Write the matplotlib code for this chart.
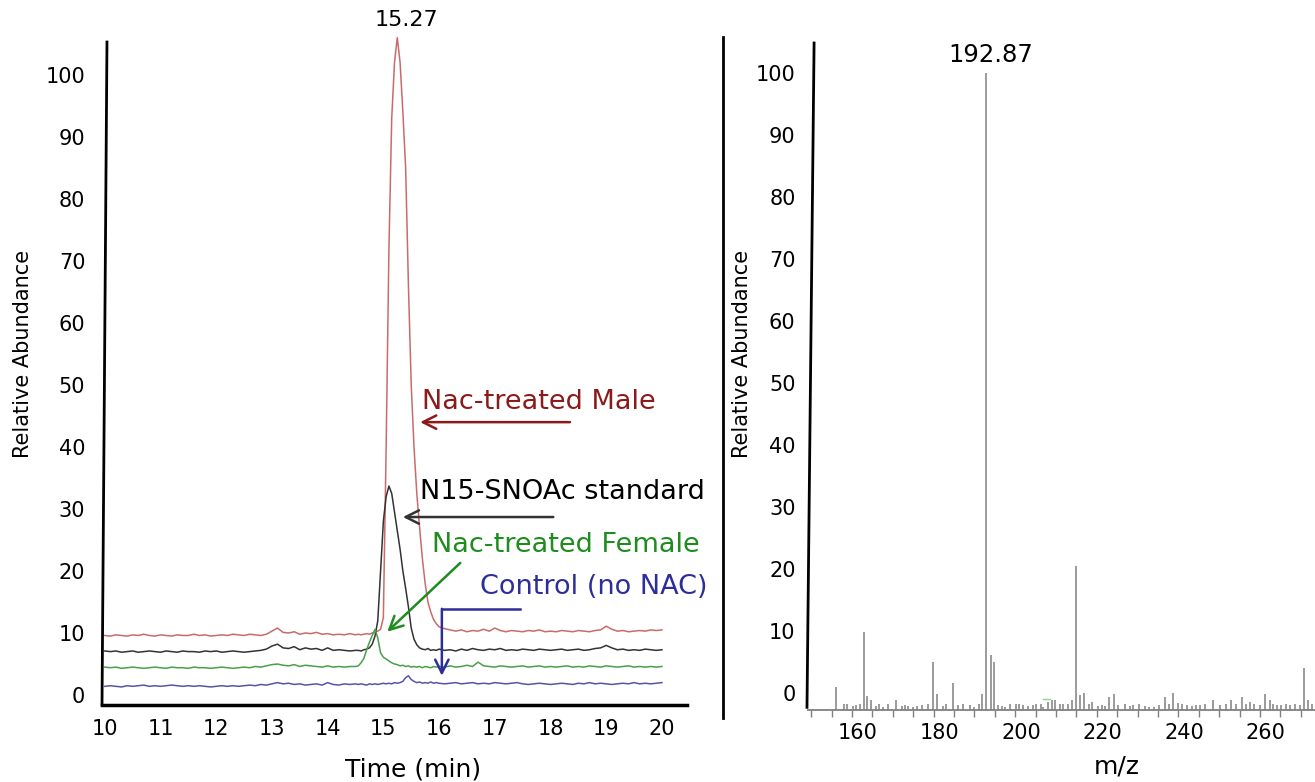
import matplotlib
matplotlib.use('Agg')
import matplotlib.pyplot as plt
import matplotlib.transforms as mtransforms
from matplotlib.lines import Line2D

# ---- chromatogram (left panel), time grid in minutes ----
time_min = [10.0, 10.1, 10.2, 10.3, 10.4, 10.5, 10.6, 10.7, 10.8, 10.9,
            11.0, 11.1, 11.2, 11.3, 11.4, 11.5, 11.6, 11.7, 11.8, 11.9,
            12.0, 12.1, 12.2, 12.3, 12.4, 12.5, 12.6, 12.7, 12.8, 12.9,
            13.0, 13.1, 13.2, 13.3, 13.4, 13.5, 13.6, 13.7, 13.8, 13.9,
            14.0, 14.1, 14.2, 14.3, 14.4, 14.5,
            14.55, 14.6, 14.65, 14.7, 14.75, 14.8, 14.85, 14.9, 14.95, 15.0,
            15.05, 15.1, 15.15, 15.2, 15.25, 15.3, 15.35, 15.4, 15.45, 15.5,
            15.55, 15.6, 15.65, 15.7, 15.75, 15.8, 15.85, 15.9, 15.95, 16.0,
            16.1, 16.2, 16.3, 16.4, 16.5, 16.6, 16.7, 16.8, 16.9, 17.0,
            17.1, 17.2, 17.3, 17.4, 17.5, 17.6, 17.7, 17.8, 17.9, 18.0,
            18.1, 18.2, 18.3, 18.4, 18.5, 18.6, 18.7, 18.8, 18.9, 19.0,
            19.1, 19.2, 19.3, 19.4, 19.5, 19.6, 19.7, 19.8, 19.9, 20.0]

male = [9.6, 9.5, 9.7, 9.6, 9.5, 9.7, 9.6, 9.8, 9.6, 9.5,
        9.7, 9.6, 9.5, 9.7, 9.6, 9.6, 9.8, 9.6, 9.7, 9.5,
        9.6, 9.7, 9.6, 9.8, 9.7, 9.6, 9.8, 9.7, 9.6, 9.8,
        10.3, 10.8, 10.1, 10.0, 10.2, 9.8, 10.0, 9.9, 10.1, 9.8,
        9.9, 9.7, 9.8, 9.7, 9.9, 9.7,
        9.8, 9.7, 9.8, 9.9, 9.8, 10.0, 10.1, 10.3, 10.6, 12.5,
        40.0, 72.0, 93.0, 102.0, 106.0, 102.0, 94.0, 85.0, 66.0, 50.0,
        40.0, 32.5, 27.0, 22.0, 18.0, 15.0, 13.4, 12.2, 11.5, 11.0,
        10.7, 10.5, 10.3, 10.5, 10.2, 10.4, 10.3, 10.6, 10.3, 10.8,
        10.4, 10.2, 10.4, 10.3, 10.2, 10.4, 10.3, 10.5, 10.2, 10.3,
        10.2, 10.4, 10.3, 10.2, 10.4, 10.3, 10.2, 10.4, 10.5, 11.1,
        10.6, 10.3, 10.4, 10.2, 10.3, 10.4, 10.3, 10.5, 10.4, 10.5]

standard = [7.1, 7.0, 7.1, 6.9, 7.0, 7.1, 6.9, 7.0, 7.1, 7.0,
            6.9, 7.1, 7.0, 6.9, 7.1, 7.0, 7.0, 6.9, 7.1, 7.0,
            7.1, 6.9, 7.0, 7.1, 7.0, 6.9, 7.0, 7.1, 7.2, 7.4,
            7.9, 8.2, 7.6, 7.5, 7.8, 7.3, 7.6, 7.4, 7.5, 7.2,
            7.6, 7.2, 7.3, 7.2, 7.1, 7.2,
            7.2, 7.1, 7.3, 7.4, 7.6, 8.2, 9.5, 12.0, 20.0, 28.0,
            32.0, 33.7, 32.5, 29.5, 26.5, 23.5, 20.0, 17.2, 14.2, 10.8,
            9.0, 8.1, 7.6, 7.4, 7.3, 7.5, 7.2, 7.3, 7.2, 7.4,
            7.2, 7.3, 7.1, 7.4, 7.2, 7.5, 7.3, 7.2, 7.4, 7.3,
            7.5, 7.2, 7.3, 7.2, 7.4, 7.3, 7.2, 7.4, 7.3, 7.2,
            7.3, 7.4, 7.2, 7.3, 7.4, 7.2, 7.3, 7.5, 7.6, 8.0,
            7.6, 7.3, 7.4, 7.2, 7.3, 7.2, 7.4, 7.3, 7.2, 7.3]

female = [4.5, 4.4, 4.5, 4.3, 4.4, 4.5, 4.4, 4.3, 4.4, 4.5,
          4.4, 4.3, 4.5, 4.4, 4.4, 4.3, 4.5, 4.4, 4.4, 4.3,
          4.4, 4.5, 4.4, 4.3, 4.4, 4.5, 4.4, 4.6, 4.5, 4.7,
          4.9, 5.0, 4.8, 4.7, 4.9, 4.6, 4.8, 4.7, 4.6, 4.5,
          4.7, 4.5, 4.6, 4.5, 4.6, 4.6,
          4.7, 5.2, 5.9, 7.3, 8.5, 9.6, 10.6, 9.2, 6.8, 6.1,
          5.8, 5.5, 5.2, 5.0, 4.9, 4.7, 4.8, 4.6, 4.7, 4.5,
          4.6, 4.5, 4.6, 4.4, 4.6, 4.5, 4.4, 4.6, 4.5, 4.6,
          4.5, 4.7, 4.5, 4.6, 4.8, 4.6, 5.3, 4.7, 4.6, 4.5,
          4.7, 4.6, 4.5, 4.6, 4.7, 4.5, 4.6, 4.7, 4.5, 4.6,
          4.5, 4.6, 4.7, 4.5, 4.6, 4.5, 4.7, 4.6, 4.5, 4.7,
          4.6, 4.5, 4.6, 4.7, 4.5, 4.6, 4.5, 4.6, 4.5, 4.6]

control = [1.4, 1.5, 1.4, 1.3, 1.5, 1.4, 1.5, 1.6, 1.4, 1.5,
           1.4, 1.5, 1.6, 1.5, 1.4, 1.5, 1.4, 1.5, 1.4, 1.3,
           1.4, 1.5, 1.4, 1.5, 1.4, 1.5, 1.6, 1.5, 1.7, 1.6,
           1.8, 2.0, 1.8, 1.9, 1.7, 1.8, 1.6, 1.7, 1.8, 1.6,
           2.0, 1.7, 1.6, 1.8, 1.7, 1.8,
           1.7, 1.8, 1.7, 1.6, 1.8, 1.7, 1.8, 1.7, 1.8, 1.9,
           1.8, 1.9, 1.8, 2.0, 1.9, 2.0, 2.2, 2.8, 3.1, 2.5,
           2.2, 2.0, 2.1, 1.9, 2.0, 1.9, 2.1, 1.9, 2.0, 1.9,
           1.8, 1.9, 2.0, 1.8, 1.9, 2.0, 1.8, 1.9, 1.8, 2.0,
           1.9, 1.8, 1.9, 2.0, 1.8, 1.7, 1.8, 1.9, 1.8, 1.7,
           1.8, 1.9, 1.8, 1.7, 1.9, 1.8, 2.0, 1.8, 1.9, 1.8,
           1.7, 1.8, 1.9, 1.8, 2.0, 1.8, 1.9, 1.8, 1.9, 2.0]

# ---- mass spectrum (right panel) ----
mz = [156.0, 158.0, 158.7, 160.2, 161.0, 162.0, 162.9, 163.6, 164.6, 165.9,
      166.6, 167.6, 168.8, 170.8, 172.2, 173.0, 173.7, 175.0, 175.9, 177.1,
      178.6, 179.9, 180.8, 182.3, 183.0, 184.8, 186.0, 187.1, 188.9, 189.9,
      191.1, 191.9, 192.87, 194.0, 194.8, 195.9, 196.7, 197.6, 198.7, 200.2,
      201.0, 202.0, 203.2, 204.4, 205.2, 206.4, 206.9, 208.1, 208.9, 209.8,
      211.0, 211.8, 213.0, 214.0, 214.8, 215.9, 216.9, 218.0, 218.8, 220.2,
      221.2, 222.0, 223.1, 224.2, 225.2, 226.8, 228.1, 228.9, 230.3, 231.7,
      232.9, 234.1, 235.3, 236.7, 237.7, 238.8, 240.0, 240.8, 242.0, 243.3,
      244.3, 245.3, 246.5, 248.6, 250.2, 251.7, 252.8, 254.1, 255.5, 256.7,
      257.5, 258.5, 260.0, 261.2, 262.4, 263.2, 264.2, 265.2, 266.3, 267.3,
      268.5, 269.7, 270.8, 271.9, 272.7]
intensity = [1.0, -1.8, -1.7, -2.1, -2.0, -1.7, 9.8, -0.5, -1.2, -2.1,
             -1.7, -2.2, -1.8, -1.2, -2.1, -2.0, -2.1, -2.2, -2.1, -2.0,
             -1.7, 5.0, -0.2, -2.1, -1.8, 1.6, -2.0, -1.8, -2.0, -2.2,
             -1.7, -0.2, 100.0, 6.1, 5.0, -2.0, -2.1, -2.2, -1.8, -1.8,
             -1.8, -2.0, -2.1, -2.0, -1.7, -1.8, -2.2, -1.4, -1.1, -1.1,
             -1.8, -1.8, -1.7, -1.2, 20.5, -0.3, 0.0, -1.7, -1.4, -2.1,
             -2.0, -2.1, -0.7, -0.2, -2.0, -1.8, -2.1, -2.0, -1.7, -2.1,
             -2.2, -2.2, -2.0, -0.7, -1.7, 0.0, -1.6, -1.7, -2.0, -2.1,
             -2.0, -2.0, -1.8, -1.2, -2.0, -1.7, -1.2, -1.8, -0.7, -1.7,
             -1.4, -1.7, -2.0, -0.1, -1.2, -1.8, -2.0, -2.0, -1.8, -2.0,
             -1.7, -2.0, 4.1, -1.1, -1.7]

y_ticks = [0, 10, 20, 30, 40, 50, 60, 70, 80, 90, 100]
time_ticks = [10, 11, 12, 13, 14, 15, 16, 17, 18, 19, 20]
mz_ticks = [160, 180, 200, 220, 240, 260]
mz_minor = list(range(150, 275, 5))

assert len(time_min) == len(male) == len(standard) == len(female) == len(control)
assert len(mz) == len(intensity)

spec_floor = -2.74   # the spectrum's drawn baseline sits below the 0 label

fig = plt.figure(figsize=(13.15, 7.82), dpi=100)
ax1 = fig.add_axes([0.07757, 0.09847, 0.44487, 0.84783])
ax2 = fig.add_axes([0.61445, 0.09207, 0.38555, 0.85294])

# left: chromatogram
ax1.plot(time_min, male, color='#c96b6b', lw=1.1, clip_on=False)
ax1.plot(time_min, standard, color='#333333', lw=1.1)
ax1.plot(time_min, female, color='#4b9e4b', lw=1.1)
ax1.plot(time_min, control, color='#5555a8', lw=1.1)
ax1.set_xlim(9.95, 20.45)
ax1.set_ylim(-1.61, 105.3)
ax1.set_xticks(time_ticks)
ax1.set_yticks(y_ticks)
ax1.tick_params(axis='both', length=0, labelsize=15)
ax1.tick_params(axis='x', pad=10)
ax1.tick_params(axis='y', pad=12)
for s in ['top', 'right', 'left']:
    ax1.spines[s].set_visible(False)
ax1.spines['bottom'].set_linewidth(2.5)
ax1.add_line(Line2D([0, 0.0085], [0, 1], transform=ax1.transAxes,
                    color='black', lw=2, clip_on=False))

ax1.text(15.41, 108.9, '15.27', fontsize=16, ha='center', va='center')

ax1.text(15.70, 47.3, 'Nac-treated Male', fontsize=19.5, color='#8b1a1a',
         ha='left', va='center')
ax1.annotate('', xy=(15.66, 44.0), xytext=(18.35, 44.0),
             arrowprops=dict(arrowstyle='->', color='#8b1a1a', lw=1.8,
                             mutation_scale=24, shrinkA=0, shrinkB=0))

ax1.text(15.66, 32.7, 'N15-SNOAc standard', fontsize=19.5, color='black',
         ha='left', va='center')
ax1.annotate('', xy=(15.35, 28.7), xytext=(18.05, 28.7),
             arrowprops=dict(arrowstyle='->', color='#333333', lw=1.8,
                             mutation_scale=24, shrinkA=0, shrinkB=0))

ax1.text(15.87, 24.2, 'Nac-treated Female', fontsize=19.5, color='#1e8c1e',
         ha='left', va='center')
ax1.annotate('', xy=(15.07, 10.2), xytext=(16.38, 21.3),
             arrowprops=dict(arrowstyle='->', color='#1e8c1e', lw=1.8,
                             mutation_scale=24, shrinkA=0, shrinkB=0))

ax1.text(16.74, 17.4, 'Control (no NAC)', fontsize=19.5, color='#2e2e9a',
         ha='left', va='center')
ax1.plot([17.45, 16.05], [13.9, 13.9], color='#2e2e9a', lw=1.8)
ax1.annotate('', xy=(16.05, 3.1), xytext=(16.05, 13.9),
             arrowprops=dict(arrowstyle='->', color='#2e2e9a', lw=1.8,
                             mutation_scale=24, shrinkA=0, shrinkB=0))

# right: mass spectrum
ax2.vlines(mz, spec_floor, intensity, color='#808080', lw=1.1)
ax2.plot([206.8, 208.6], [-0.9, -0.9], color='#8fd08f', lw=1)
ax2.set_xlim(149.2, 273.5)
ax2.set_ylim(spec_floor, 104.84)
ax2.set_xticks(mz_minor)
ax2.set_xticklabels([str(v) if v in mz_ticks else '' for v in mz_minor])
ax2.set_yticks(y_ticks)
ax2.tick_params(axis='x', length=5, width=1, color='#808080', labelsize=15, pad=4)
ax2.tick_params(axis='y', length=0, labelsize=15, pad=9)
# labels in the source sit a few pixels right of their ticks
shift = mtransforms.ScaledTranslation(6 / 100, 0, fig.dpi_scale_trans)
for lab in ax2.get_xticklabels():
    lab.set_transform(lab.get_transform() + shift)
for s in ['top', 'right', 'left']:
    ax2.spines[s].set_visible(False)
ax2.spines['bottom'].set_color('#808080')
ax2.spines['bottom'].set_linewidth(1.3)
ax2.add_line(Line2D([-0.002, 0.012], [0.004, 1], transform=ax2.transAxes,
                    color='black', lw=2, clip_on=False))
ax2.text(193.9, 102.9, '192.87', fontsize=17.5, ha='center', va='center')

# divider between panels and axis titles
fig.add_artist(Line2D([723 / 1315, 723 / 1315], [1 - 37 / 782, 1 - 718 / 782],
                      color='black', lw=2))
fig.text(23 / 1315, 1 - 354 / 782, 'Relative Abundance', rotation=90,
         fontsize=15, ha='center', va='center')
fig.text(742 / 1315, 1 - 354 / 782, 'Relative Abundance', rotation=90,
         fontsize=15, ha='center', va='center')
fig.text(413 / 1315, 1 - 770 / 782, 'Time (min)', fontsize=18,
         ha='center', va='center')
fig.text(1117 / 1315, 1 - 767 / 782, 'm/z', fontsize=18,
         ha='center', va='center')

fig.savefig('out.png', dpi=100)
